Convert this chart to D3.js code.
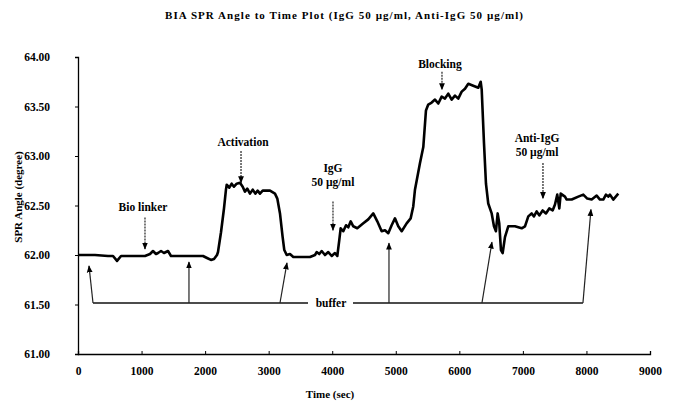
<!DOCTYPE html>
<html><head><meta charset="utf-8">
<script src="https://cdn.jsdelivr.net/npm/d3@7"></script>
<style>
body{margin:0;background:#fff;}
text{font-family:"Liberation Serif","Times New Roman",serif;font-weight:bold;fill:#000;}
</style></head>
<body><svg id="c" width="675" height="404"></svg>
<script>
// time (sec)
const timeSec = [0,267,472,551,614,677,1054,1133,1180,1227,1259,1306,1353,1416,1463,1967,2030,2092,2140,2187,2203,2250,2297,2328,
2340,2380,2418,2454,2497,2549,2591,2627,2664,2706,2749,2790,2827,2863,2906,3021,3099,3136,3178,3220,3246,3284,3335,3388,3650,3729,
3755,3796,3834,3886,3938,3992,4043,4080,4111,4133,4174,4217,4253,4291,4331,4394,4489,4567,4646,4709,4778,4830,4882,4935,4987,5039,5093,5171,5234,
5275,5302,5381,5433,5475,5511,5565,5617,5669,5722,5774,5826,5879,5931,5983,6037,6089,6141,6219,6298,6336,6352,6388,6419,6455,6509,6545,6576,6603,6628,6655,6682,6718,6770,
6875,6981,7033,7085,7138,7174,7217,7258,7311,7363,7415,7468,7505,7541,7573,7595,7662,7689,7768,7872,7950,8013,8082,8161,8213,8265,8307,8343,8370,8422,8501];
// SPR angle (degree)
const sprAngle = [62.00,62.00,61.99,61.99,61.94,61.99,61.99,62.01,62.04,62.01,62.02,62.04,62.02,62.04,61.99,61.99,61.97,61.95,61.96,62.00,62.03,62.23,62.47,62.66,
62.71,62.68,62.72,62.69,62.72,62.73,62.69,62.64,62.67,62.62,62.66,62.62,62.65,62.62,62.65,62.65,62.62,62.57,62.42,62.18,62.05,62.00,62.01,61.98,61.98,62.00,
62.03,62.01,62.04,62.00,62.03,61.99,62.02,61.99,62.15,62.27,62.24,62.30,62.28,62.34,62.29,62.27,62.32,62.36,62.42,62.34,62.24,62.25,62.22,62.30,62.37,62.29,62.24,62.32,62.37,
62.49,62.66,62.93,63.09,63.46,63.52,63.54,63.57,63.53,63.60,63.58,63.63,63.57,63.61,63.58,63.65,63.68,63.73,63.71,63.69,63.75,63.67,63.13,62.72,62.52,62.42,62.29,62.24,62.42,62.32,62.05,62.02,62.18,62.29,
62.29,62.27,62.29,62.39,62.42,62.39,62.44,62.40,62.45,62.42,62.47,62.45,62.51,62.61,62.47,62.62,62.59,62.56,62.56,62.59,62.61,62.57,62.56,62.60,62.56,62.56,62.61,62.59,62.61,62.56,62.62];

const xTicks = [0,1000,2000,3000,4000,5000,6000,7000,8000,9000];
const yTicks = [61.00,61.50,62.00,62.50,63.00,63.50,64.00];

// annotations: label lines, label centre time, baseline angle, arrow time, arrow top, arrow bottom
const eventLabels = [
  {lines:["Bio linker"], t:1023, v:62.44, at:1054, a0:62.38, a1:62.06},
  {lines:["Activation"], t:2596, v:63.10, at:2565, a0:63.05, a1:62.73},
  {lines:["IgG","50 µg/ml"], t:4012, v:62.84, at:4012, a0:62.54, a1:62.25},
  {lines:["Blocking"], t:5695, v:63.89, at:5727, a0:63.85, a1:63.67},
  {lines:["Anti-IgG","50 µg/ml"], t:7222, v:63.14, at:7316, a0:62.93, a1:62.57}
];
// buffer arrows: base time, tip time, tip angle
const bufferBaseV = 61.515;
const bufferArrows = [
  [236,173,61.89],[1746,1746,61.93],[3178,3288,61.92],[4893,4893,62.12],[6356,6513,62.13],[7945,8071,62.46]
];
const bufferLine = [[236,3619],[4327,7945]];
const bufferText = {t:3981, label:"buffer"};

const svg = d3.select("#c");
const x = d3.scaleLinear().domain([0,9000]).range([78,650]);
const y = d3.scaleLinear().domain([61,64]).range([354,57]);

// axes
const xAxis = d3.axisBottom(x).tickValues(xTicks).tickSize(-3).tickFormat(d3.format("d"));
const gx = svg.append("g").attr("transform",`translate(0,${y(61)})`).call(xAxis);
const yAxis = d3.axisLeft(y).tickValues(yTicks).tickSize(3).tickFormat(d3.format(".2f"));
const gy = svg.append("g").attr("transform",`translate(${x(0)},0)`).call(yAxis);
[gx,gy].forEach(g=>{
  g.select(".domain").attr("stroke","#000").attr("stroke-width",1.3);
  g.selectAll(".tick line").attr("stroke","#000");
  g.selectAll(".tick text").style("font-family","Liberation Serif, serif").style("font-weight","bold").style("font-size","11.5px").attr("fill","#000");
});
gx.selectAll(".tick text").attr("y",13);
gy.selectAll(".tick text").attr("x",-28);

// curve
const pts = timeSec.map((t,i)=>[t,sprAngle[i]]);
svg.append("path").datum(pts)
  .attr("d",d3.line().x(d=>x(d[0])).y(d=>y(d[1])))
  .attr("fill","none").attr("stroke","#000").attr("stroke-width",2.6).attr("stroke-linejoin","round");

// arrowhead marker
svg.append("defs").append("marker").attr("id","ah").attr("viewBox","0 0 10 10")
  .attr("refX",9).attr("refY",5).attr("markerWidth",6).attr("markerHeight",6).attr("orient","auto-start-reverse")
  .append("path").attr("d","M0,1L10,5L0,9Z").attr("fill","#000");

// event labels
eventLabels.forEach(e=>{
  e.lines.forEach((l,i)=>{
    svg.append("text").attr("x",x(e.t)).attr("y",y(e.v)+i*14).attr("text-anchor","middle")
      .style("font-size","11.5px").text(l);
  });
  svg.append("line").attr("x1",x(e.at)).attr("x2",x(e.at)).attr("y1",y(e.a0)).attr("y2",y(e.a1))
    .attr("stroke","#222").attr("stroke-width",1.2).attr("stroke-dasharray","2,1").attr("marker-end","url(#ah)");
});

// buffer
bufferLine.forEach(s=>{
  svg.append("line").attr("x1",x(s[0])).attr("x2",x(s[1])).attr("y1",y(bufferBaseV)).attr("y2",y(bufferBaseV))
    .attr("stroke","#111").attr("stroke-width",1.4);
});
bufferArrows.forEach(a=>{
  svg.append("line").attr("x1",x(a[0])).attr("y1",y(bufferBaseV)).attr("x2",x(a[1])).attr("y2",y(a[2]))
    .attr("stroke","#222").attr("stroke-width",1.2).attr("marker-end","url(#ah)");
});
svg.append("text").attr("x",x(bufferText.t)).attr("y",y(bufferBaseV)+4).attr("text-anchor","middle")
  .style("font-size","11.5px").text(bufferText.label);

// titles
svg.append("text").attr("x",344).attr("y",19).attr("text-anchor","middle").style("font-size","11px")
  .attr("textLength",358).attr("lengthAdjust","spacing")
  .text("BIA SPR Angle to Time Plot (IgG 50 µg/ml, Anti-IgG 50 µg/ml)");
svg.append("text").attr("x",330).attr("y",398).attr("text-anchor","middle").style("font-size","11px").text("Time (sec)");
svg.append("text").attr("transform","translate(22,197) rotate(-90)").attr("text-anchor","middle").style("font-size","11px").text("SPR Angle (degree)");
</script></body></html>
